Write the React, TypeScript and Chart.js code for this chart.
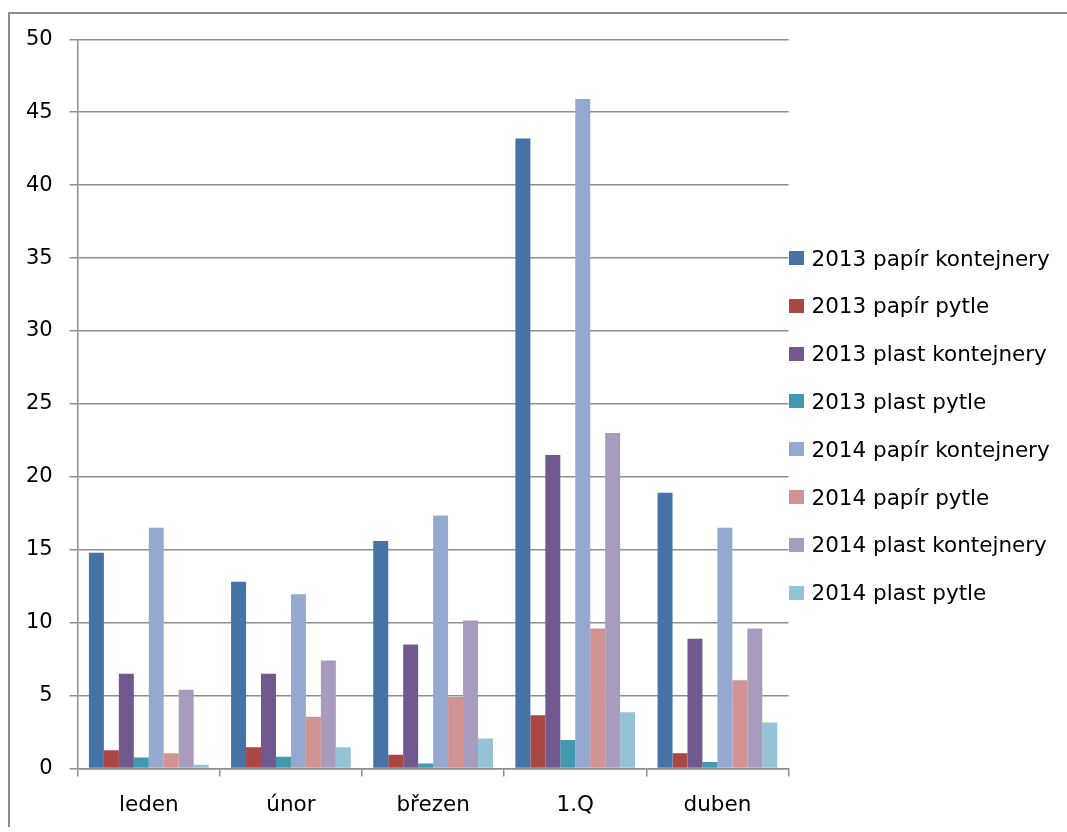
import React, { useEffect, useRef } from "react";
import { Chart, registerables } from "chart.js";

Chart.register(...registerables);

const categories = ["leden", "únor", "březen", "1.Q", "duben"];
const seriesNames = [
  "2013 papír kontejnery",
  "2013 papír pytle",
  "2013 plast kontejnery",
  "2013 plast pytle",
  "2014 papír kontejnery",
  "2014 papír pytle",
  "2014 plast kontejnery",
  "2014 plast pytle",
];
const papir2013Kont = [14.8, 12.8, 15.6, 43.2, 18.9];
const papir2013Pytle = [1.25, 1.45, 0.95, 3.65, 1.05];
const plast2013Kont = [6.5, 6.5, 8.5, 21.5, 8.9];
const plast2013Pytle = [0.75, 0.8, 0.35, 1.95, 0.45];
const papir2014Kont = [16.5, 11.95, 17.35, 45.9, 16.5];
const papir2014Pytle = [1.05, 3.55, 4.9, 9.6, 6.05];
const plast2014Kont = [5.4, 7.4, 10.15, 23.0, 9.6];
const plast2014Pytle = [0.25, 1.45, 2.05, 3.85, 3.15];
const seriesValues = [
  papir2013Kont,
  papir2013Pytle,
  plast2013Kont,
  plast2013Pytle,
  papir2014Kont,
  papir2014Pytle,
  plast2014Kont,
  plast2014Pytle,
];
const seriesColors = [
  "#4572A7",
  "#AA4643",
  "#71588F",
  "#4198AF",
  "#95A9D0",
  "#D19392",
  "#A99BBD",
  "#93C3D5",
];
const yTicks = [0, 5, 10, 15, 20, 25, 30, 35, 40, 45, 50];

const FONT = "'DejaVu Sans', sans-serif";
const GRID = "#8e8e8e";

export default function App() {
  const ref = useRef<HTMLCanvasElement | null>(null);

  useEffect(() => {
    document.body.style.overflow = "hidden";
    if (!ref.current) return;
    const chart = new Chart(ref.current, {
      type: "bar",
      data: {
        labels: categories,
        datasets: seriesNames.map((name, i) => ({
          label: name,
          data: seriesValues[i],
          backgroundColor: seriesColors[i],
          borderWidth: 0,
          categoryPercentage: 0.842,
          barPercentage: 1,
        })),
      },
      options: {
        animation: false,
        responsive: false,
        maintainAspectRatio: false,
        layout: { padding: { left: 10, top: 39.3, right: 278.5, bottom: 13.5 } },
        plugins: {
          legend: { display: false },
          tooltip: { enabled: false },
        },
        scales: {
          x: {
            afterFit: (s: any) => {
              s.height = 50;
            },
            grid: {
              display: true,
              drawOnChartArea: false,
              drawTicks: true,
              tickLength: 8,
              color: GRID,
              lineWidth: 1.5,
              offset: true,
            },
            border: { display: true, color: GRID, width: 1.5 },
            ticks: {
              color: "#000",
              font: { family: FONT, size: 21.5 },
              padding: 16,
              maxRotation: 0,
            },
          },
          y: {
            min: 0,
            max: 50,
            afterFit: (s: any) => {
              s.width = 67.7;
            },
            afterBuildTicks: (s: any) => {
              s.ticks = yTicks.map((v) => ({ value: v }));
            },
            grid: {
              color: GRID,
              lineWidth: 1.5,
              drawTicks: true,
              tickLength: 8,
            },
            border: { display: true, color: GRID, width: 1.5 },
            ticks: {
              color: "#000",
              font: { family: FONT, size: 21 },
              padding: 17,
            },
          },
        },
      },
    });
    return () => chart.destroy();
  }, []);

  return (
    <div>
      <div
        style={{
          position: "absolute",
          left: 8,
          top: 11.5,
          width: 1059,
          height: 815,
          borderLeft: "2px solid #8c8c8c",
          borderTop: "2px solid #8c8c8c",
          boxSizing: "border-box",
        }}
      />
      <canvas
        ref={ref}
        width={1067}
        height={832}
        style={{ position: "absolute", left: 0, top: 0, width: 1067, height: 832 }}
      />
      {seriesNames.map((name, i) => (
        <div
          key={name}
          style={{
            position: "absolute",
            left: 789,
            top: 258 - 12 + i * 47.8,
            height: 24,
            display: "flex",
            alignItems: "center",
            fontFamily: FONT,
            fontSize: 21.5,
            color: "#000",
            whiteSpace: "nowrap",
          }}
        >
          <span
            style={{
              display: "inline-block",
              width: 15,
              height: 14,
              background: seriesColors[i],
              marginRight: 7.5,
            }}
          />
          <span>{name}</span>
        </div>
      ))}
    </div>
  );
}
